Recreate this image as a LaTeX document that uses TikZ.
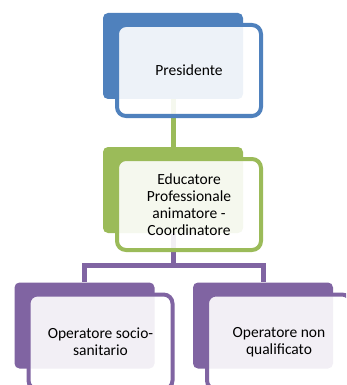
\documentclass[tikz,border=0pt]{standalone}
\usepackage{fontspec}
\setmainfont{Carlito}
\usetikzlibrary{backgrounds}
\definecolor{ofblue}{HTML}{4F81BD}
\definecolor{ofgreen}{HTML}{9BBB59}
\definecolor{ofpurple}{HTML}{8064A2}

\begin{document}
\begin{tikzpicture}[x=1pt, y=-1pt,
	back/.style={shape=rectangle,fill=#1,rounded corners=5pt,minimum width=140pt,minimum height=86pt,inner sep=0},
	front/.style={shape=rectangle,draw=#1,line width=4pt,fill=white,fill opacity=0.9,text opacity=1,rounded corners=9pt,minimum width=144pt,minimum height=91pt,inner sep=0,align=center,font=\fontsize{15.5}{17}\selectfont},
	link/.style={line width=5pt}]
				\useasboundingbox (0,0) rectangle (346,385);
				\clip (0,0) rectangle (346,385);
				\node[back=ofblue] (presB) at (173,56) {};
				\node[front=ofblue] (pres) at (189,70.5) {Presidente};
				\node[back=ofgreen] (eduB) at (173,190) {};
				\node[front=ofgreen] (edu) at (189,204.5) {Educatore\\Professionale\\animatore -\\Coordinatore};
				\node[back=ofpurple] (ossB) at (84.5,325.5) {};
				\node[front=ofpurple,minimum height=95pt] (oss) at (100.5,342) {Operatore socio-\\sanitario};
				\node[back=ofpurple] (onqB) at (263,325.5) {};
				\node[front=ofpurple,minimum height=95pt] (onq) at (279,342) {Operatore non\\qualificato};
				\coordinate (bar) at (173,265);
				\begin{pgfonlayer}{background}
				\draw[link,ofgreen] (presB) -- (eduB);
				\draw[link,ofpurple] (eduB) -- (bar) -| (ossB);
				\draw[link,ofpurple] (bar) -| (onqB);
				\end{pgfonlayer}
			\end{tikzpicture}
\end{document}
